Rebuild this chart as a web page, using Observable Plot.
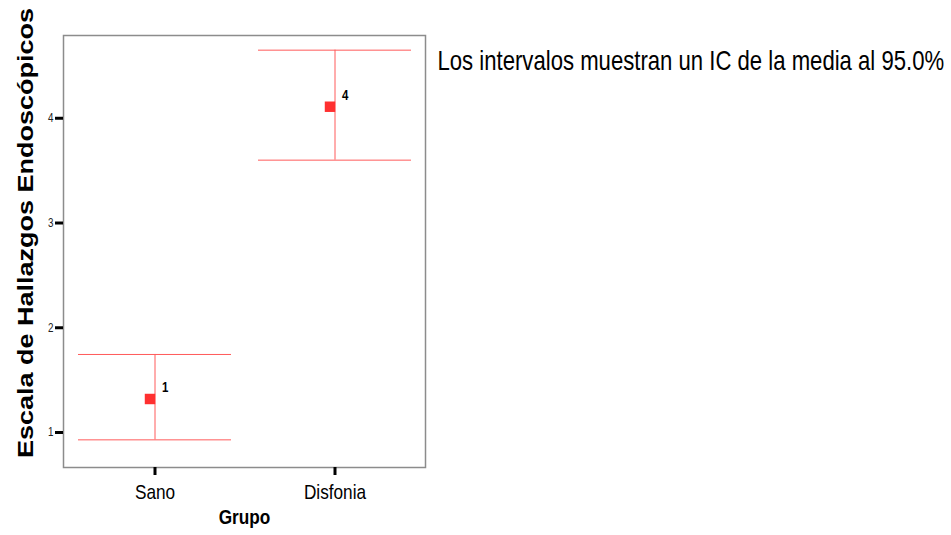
<!DOCTYPE html>
<html>
<head>
<meta charset="utf-8">
<script src="https://cdn.jsdelivr.net/npm/d3@7"></script>
<script src="https://cdn.jsdelivr.net/npm/@observablehq/plot@0.6"></script>
<style>
  html, body { margin: 0; padding: 0; background: #fff; }
</style>
</head>
<body>
<div id="chart"></div>
<script>
const groups = ["Sano", "Disfonia"];
const means = [1.32, 4.11];
const lower = [0.93, 3.60];
const upper = [1.745, 4.65];
const pointLabels = ["1", "4"];
const yTicks = [1, 2, 3, 4];
const xTitle = "Grupo";
const yTitle = "Escala de Hallazgos Endoscópicos";
const note = "Los intervalos muestran un IC de la media al 95.0%";

const data = groups.map((g, i) => ({group: g, mean: means[i], lo: lower[i], hi: upper[i], label: pointLabels[i]}));

const sans = "'Liberation Sans', Arial, sans-serif";
const lineColor = "#ff5a5a";

const chart = Plot.plot({
  width: 951,
  height: 535,
  marginLeft: 63,
  marginRight: 526,
  marginTop: 35,
  marginBottom: 68,
  style: {fontFamily: sans, background: "#fff"},
  x: {type: "band", domain: groups, paddingInner: 0.15, paddingOuter: 0.078, align: 0.5},
  y: {domain: [0.666, 4.79]},
  marks: [
    Plot.frame({stroke: "#8c8c8c", strokeWidth: 1.5}),
    Plot.axisY({ticks: yTicks, tickFormat: "d", tickSize: 8, strokeWidth: 3, stroke: "#000", tickPadding: 2, fontSize: 12, fill: "#222", label: null}),
    Plot.axisX({tickSize: 8, strokeWidth: 3, stroke: "#000", tickPadding: 9, fontSize: 21, fill: "#000", label: null}),
    Plot.tickY(data, {x: "group", y: "hi", stroke: lineColor, strokeWidth: 1}),
    Plot.tickY(data, {x: "group", y: "lo", stroke: lineColor, strokeWidth: 1}),
    Plot.ruleX(data, {x: "group", y1: "lo", y2: "hi", stroke: lineColor, strokeWidth: 1}),
    Plot.dot(data, {x: "group", y: "mean", symbol: "square", r: 5.9, dx: -5, fill: "#ff3030", stroke: null}),
    Plot.text(data, {x: "group", y: "mean", text: "label", dx: 7, dy: -11, textAnchor: "start", lineAnchor: "middle", fontWeight: "bold", fontSize: 14, fill: "#000"}),
    Plot.text([xTitle], {frameAnchor: "bottom", dy: 50, textAnchor: "middle", lineAnchor: "middle", fontWeight: "bold", fontSize: 21, fill: "#000"}),
    Plot.text([yTitle], {frameAnchor: "left", rotate: -90, dx: -38, dy: -18.5, textAnchor: "middle", lineAnchor: "middle", fontWeight: "bold", fontSize: 27, fill: "#000"}),
    Plot.text([note], {frameAnchor: "top-left", dx: 374, dy: 25.5, textAnchor: "start", lineAnchor: "middle", fontSize: 27, fill: "#000"})
  ]
});
document.getElementById("chart").appendChild(chart);

// The reference is horizontally condensed: squeeze every text along the screen's x direction
// about its own anchor point.
const squeeze = 0.82;
d3.select(chart).selectAll("text").each(function () {
  const own = this.getAttribute("transform") || "";
  const parent = this.parentNode.getAttribute("transform") || "";
  const rotated = (own + parent).includes("rotate");
  if (rotated) {
    // local y axis is the screen's x axis after rotate(-90)
    this.setAttribute("transform", (own + ` scale(1,${squeeze})`).trim());
  } else {
    const x = +(this.getAttribute("x") || 0);
    this.setAttribute("transform", (own + ` translate(${x},0) scale(${squeeze},1) translate(${-x},0)`).trim());
  }
});
</script>
</body>
</html>
